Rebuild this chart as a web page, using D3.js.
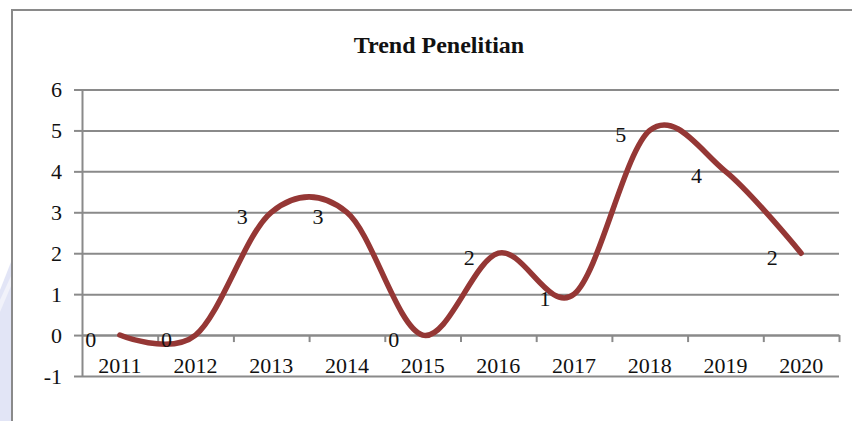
<!DOCTYPE html>
<html>
<head>
<meta charset="utf-8">
<script src="https://cdn.jsdelivr.net/npm/d3@7"></script>
<style>
  body { margin: 0; background: #fff; }
  svg { display: block; }
  svg text { font-family: "Liberation Serif", "Times New Roman", serif; }
</style>
</head>
<body>
<svg id="chart" width="852" height="421"></svg>
<script>
// data
let years = ["2011", "2012", "2013", "2014", "2015", "2016", "2017", "2018", "2019", "2020"];
let counts = [0, 0, 3, 3, 0, 2, 1, 5, 4, 2];
let yTicks = [-1, 0, 1, 2, 3, 4, 5, 6];
let title = "Trend Penelitian";

let svg = d3.select("#chart");
let plotLeft = 82, plotRight = 839, plotTop = 89.5, plotBottom = 376;
let gridColor = "#8a8a8a";
let serif = "Liberation Serif, Times New Roman, serif";

// faint watermark at the left edge
svg.append("path")
    .attr("d", "M0,290 L11,262 L11,421 L0,421 Z")
    .attr("fill", "#e2e5f6");
svg.append("path")
    .attr("d", "M0,300 L11,276 L11,286 L0,312 Z")
    .attr("fill", "#f1f2fa");

// outer frame
svg.append("path")
    .attr("d", "M12,421 L12,10 L852,10")
    .attr("fill", "none")
    .attr("stroke", gridColor)
    .attr("stroke-width", 2);

let x = d3.scaleBand().domain(years).range([plotLeft, plotRight]);
let y = d3.scaleLinear().domain([-1, 6]).range([plotBottom, plotTop]);
let cx = d => x(d) + x.bandwidth() / 2;

// horizontal gridlines
let grid = svg.append("g")
    .attr("transform", `translate(${plotLeft},0)`)
    .call(d3.axisLeft(y).tickValues(yTicks).tickSize(-(plotRight - plotLeft)).tickFormat(""));
grid.select(".domain").remove();
grid.selectAll("line").attr("stroke", gridColor).attr("stroke-width", 2);

// y axis with labels
let yAxis = svg.append("g")
    .attr("transform", `translate(${plotLeft},0)`)
    .call(d3.axisLeft(y).tickValues(yTicks).tickFormat(d => String(d))
        .tickSize(8).tickSizeOuter(0).tickPadding(12));
yAxis.attr("font-family", serif);
yAxis.select(".domain").attr("stroke", gridColor).attr("stroke-width", 2);
yAxis.selectAll("line").attr("stroke", gridColor).attr("stroke-width", 2);
yAxis.selectAll("text")
    .attr("font-family", serif)
    .attr("font-size", 22)
    .attr("fill", "#111");

// x axis on the zero line, ticks at category boundaries
let edges = d3.scaleLinear().domain([0, years.length]).range([plotLeft, plotRight]);
let xAxis = svg.append("g")
    .attr("transform", `translate(0,${y(0)})`)
    .call(d3.axisBottom(edges).tickValues(d3.range(1, years.length + 1)).tickSize(7).tickSizeOuter(0).tickFormat(""));
xAxis.select(".domain").attr("stroke", gridColor).attr("stroke-width", 2);
xAxis.selectAll("line").attr("stroke", gridColor).attr("stroke-width", 2);

let xLabels = svg.append("g")
    .attr("transform", `translate(0,${y(0)})`)
    .call(d3.axisBottom(x).tickSize(0));
xLabels.attr("font-family", serif);
xLabels.select(".domain").remove();
xLabels.selectAll("text")
    .attr("y", 30)
    .attr("dy", "0.35em")
    .attr("font-family", serif)
    .attr("font-size", 22)
    .attr("fill", "#111");

// smoothed line
let line = d3.line()
    .x((d, i) => cx(years[i]))
    .y(d => y(d))
    .curve(d3.curveCardinal.tension(0));

svg.append("path")
    .datum(counts)
    .attr("d", line)
    .attr("fill", "none")
    .attr("stroke", "#953735")
    .attr("stroke-width", 5.5)
    .attr("stroke-linecap", "round");

// data labels, placed to the left of each point
svg.selectAll(".value-label")
    .data(counts)
    .enter()
    .append("text")
    .attr("class", "value-label")
    .attr("x", (d, i) => cx(years[i]) - 29)
    .attr("y", d => y(d) + 4)
    .attr("dy", "0.35em")
    .attr("text-anchor", "middle")
    .attr("font-family", serif)
    .attr("font-size", 22)
    .attr("fill", "#111")
    .text(d => d);

// title
svg.append("text")
    .attr("x", 439)
    .attr("y", 53)
    .attr("text-anchor", "middle")
    .attr("font-family", serif)
    .attr("font-size", 24)
    .attr("font-weight", "bold")
    .attr("fill", "#111")
    .text(title);
</script>
</body>
</html>
